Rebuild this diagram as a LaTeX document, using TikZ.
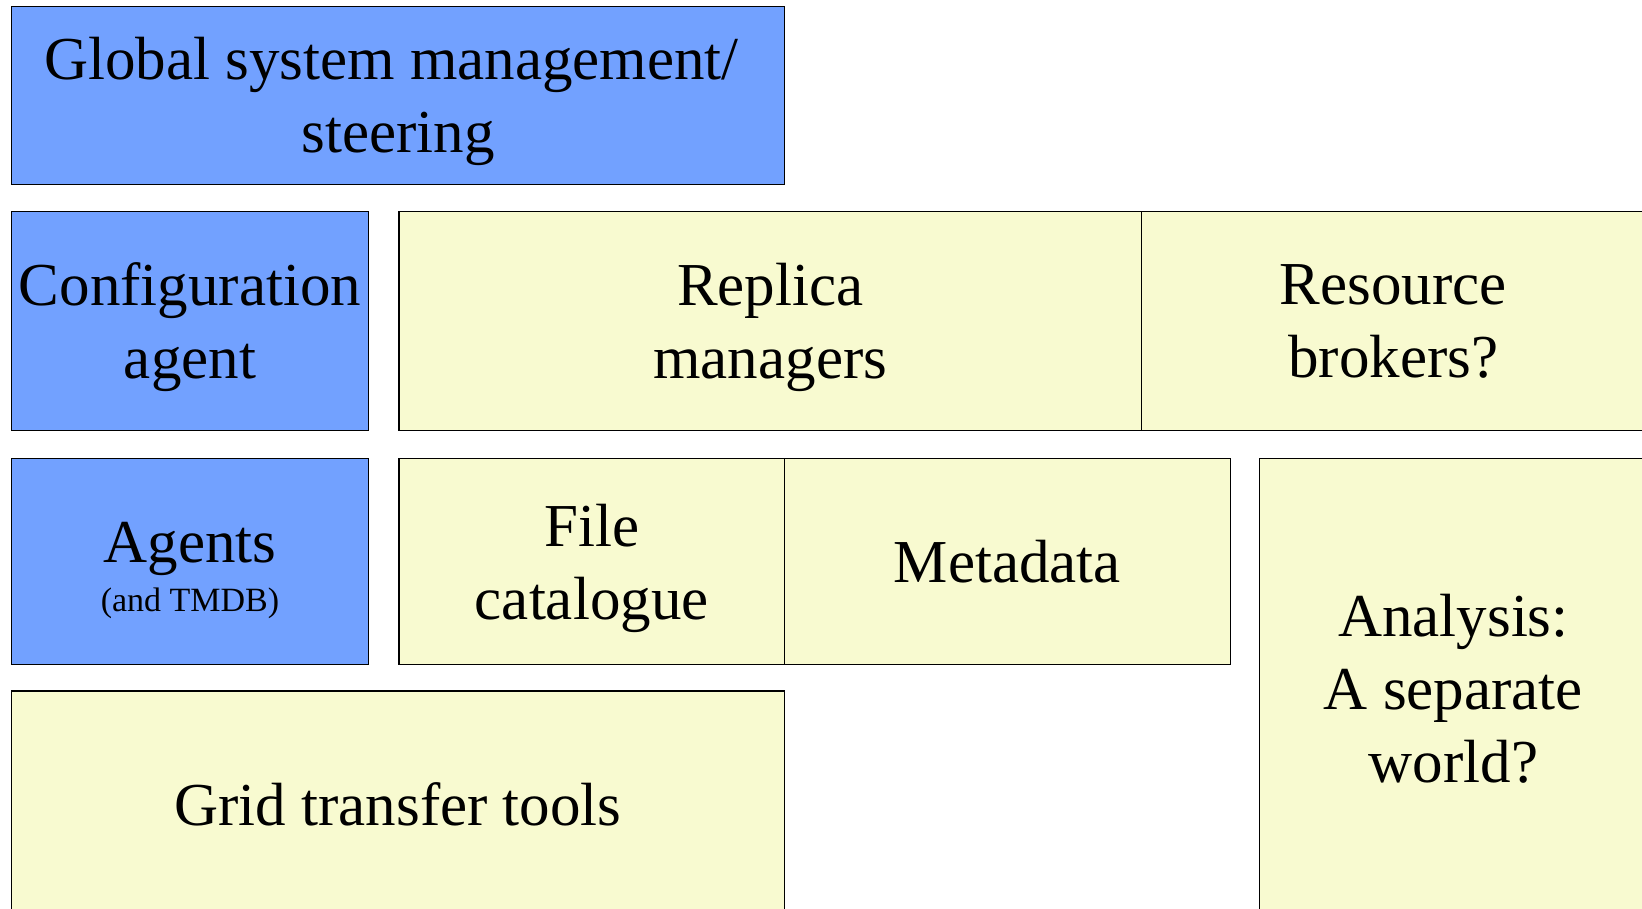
\documentclass[tikz,border=0pt]{standalone}
\usepackage{fontspec}
\setmainfont{Liberation Serif}
\definecolor{mgmtblue}{RGB}{114,161,255}
\definecolor{paleyellow}{RGB}{248,250,208}
\tikzset{
  box/.style={draw=black, line width=1.3pt, rectangle, inner sep=0pt, outer sep=0pt,
    align=center, text depth=0pt, font=\fontsize{61}{73}\selectfont},
  bluebox/.style={box, fill=mgmtblue},
  yellowbox/.style={box, fill=paleyellow},
}
\begin{document}
\begin{tikzpicture}[x=1pt, y=-1pt]
  \useasboundingbox (0,0) rectangle (1642,909);
  \clip (0,0) rectangle (1642,909);
  \fill[white] (0,0) rectangle (1642,909);

  % management column
  \node[bluebox, minimum width=773pt, minimum height=178pt] (glob) at (398,95.3)
    {Global system management/\hspace*{13pt}\\steering};
  \node[bluebox, minimum width=357pt, minimum height=219pt] (conf) at (190,321)
    {Configuration\\agent};
  % a taller first line lowers the two lines a little inside the box
  \node[bluebox, minimum width=357pt, minimum height=206pt, font=\fontsize{61}{49}\selectfont] (agen) at (190,561.5)
    {\rule{0pt}{51pt}Agents\\{\fontsize{34}{49}\selectfont (and TMDB)}};

  % data management blocks
  \node[yellowbox, minimum width=742.5pt, minimum height=219pt] (repl) at (770.25,321)
    {Replica\\managers};
  \node[yellowbox, minimum width=503.5pt, minimum height=219pt] (reso) at (1393.25,321)
    {Resource\\brokers?};
  \node[yellowbox, minimum width=385.4pt, minimum height=206pt] (file) at (591.7,561.5)
    {File\\catalogue};
  \node[yellowbox, minimum width=446.1pt, minimum height=206pt] (meta) at (1007.45,561.5)
    {Metadata};
  \node[yellowbox, minimum width=773pt, minimum height=226pt] (grid) at (398,804)
    {Grid transfer tools};
  \node[yellowbox, minimum width=387.2pt, minimum height=458.8pt] (anal) at (1453.4,688.1)
    {Analysis:\\A separate\\world?};
\end{tikzpicture}
\end{document}
